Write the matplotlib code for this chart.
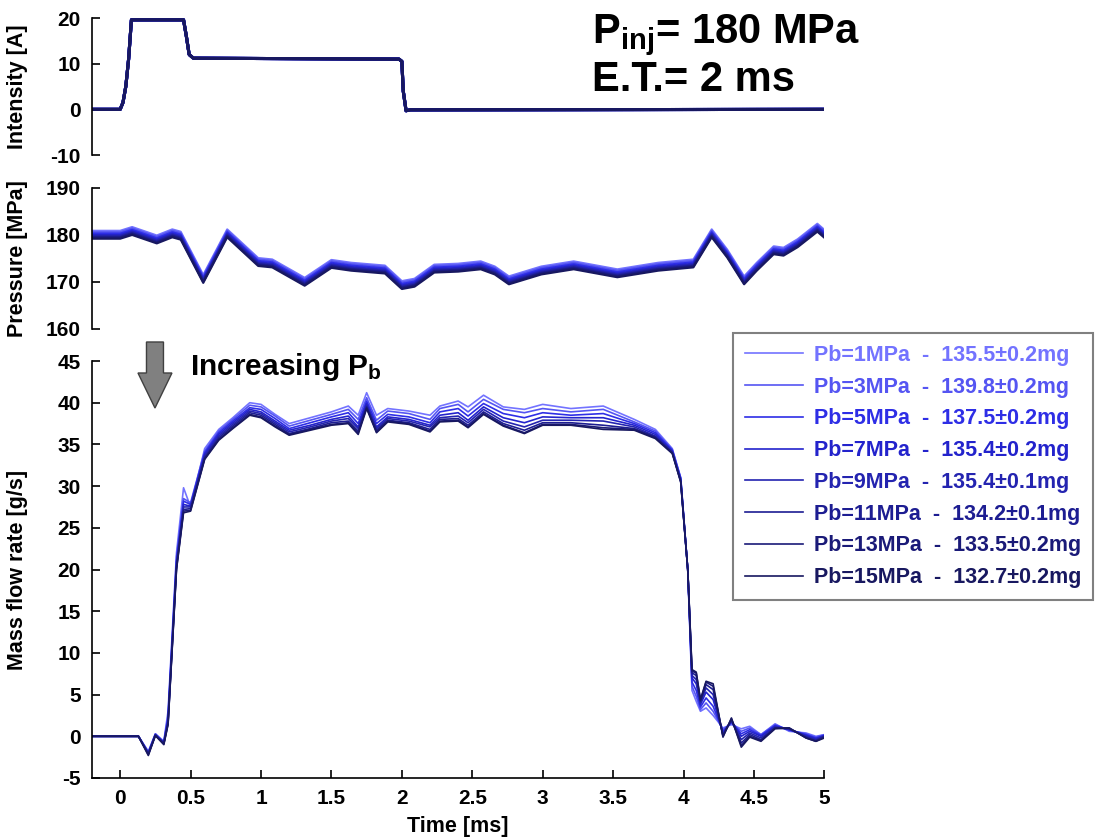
import matplotlib.pyplot as plt
from matplotlib.patches import FancyArrow
import numpy as np

plt.rcParams['font.family'] = ['Liberation Sans', 'DejaVu Sans']
plt.rcParams['font.weight'] = 'bold'
plt.rcParams['axes.unicode_minus'] = False
plt.rcParams['mathtext.fontset'] = 'custom'
plt.rcParams['mathtext.rm'] = 'Liberation Sans:bold'
plt.rcParams['mathtext.bf'] = 'Liberation Sans:bold'
plt.rcParams['mathtext.it'] = 'Liberation Sans:bold'

# --- data ---
pb_values = [1, 3, 5, 7, 9, 11, 13, 15]
mass_inj = ['135.5±0.2', '139.8±0.2', '137.5±0.2', '135.4±0.2',
            '135.4±0.1', '134.2±0.1', '133.5±0.2', '132.7±0.2']
colors = ['#7373ff', '#5555f2', '#2e2ee6', '#2323cc',
          '#2424b0', '#1d1d92', '#1a1a78', '#181860']

# injector current (same for every case)
t_int = [-0.2, 0.0, 0.02, 0.04, 0.06, 0.08, 0.45, 0.47, 0.49, 0.52,
         1.98, 2.0, 2.01, 2.03, 2.06, 5.0]
intensity = [0, 0, 1.5, 5, 11, 19.6, 19.6, 16, 12, 11.2,
             11.0, 10.5, 4, -0.3, -0.1, 0]

# rail pressure
t_p = [-0.2, 0.0, 0.085, 0.26, 0.37, 0.43, 0.59, 0.76, 0.98, 1.08, 1.31, 1.50,
       1.64, 1.88, 2.0, 2.09, 2.23, 2.40, 2.56, 2.66, 2.76, 2.99, 3.22, 3.53,
       3.82, 4.07, 4.2, 4.31, 4.43, 4.52, 4.64, 4.71, 4.81, 4.95, 5.0]
p_pb1 = [180.9, 180.9, 181.7, 179.9, 181.2, 180.7, 171.5, 181.2, 175.1, 174.8, 170.9, 174.7, 174.1, 173.5, 170.2, 170.7, 173.7, 173.9, 174.4, 173.3, 171.2, 173.3, 174.4, 172.7, 174.1, 174.8, 181.2, 176.9, 171.2, 174.1, 177.6, 177.3, 179.1, 182.4, 181.1]
p_pb3 = [180.6, 180.6, 181.4, 179.6, 180.9, 180.4, 171.2, 180.9, 174.8, 174.5, 170.6, 174.4, 173.8, 173.2, 169.9, 170.4, 173.4, 173.6, 174.1, 173.0, 170.9, 173.0, 174.1, 172.4, 173.8, 174.5, 180.9, 176.6, 170.9, 173.8, 177.3, 177.0, 178.8, 182.1, 180.8]
p_pb5 = [180.3, 180.3, 181.1, 179.3, 180.6, 180.1, 170.9, 180.6, 174.5, 174.2, 170.3, 174.1, 173.5, 172.9, 169.6, 170.1, 173.1, 173.3, 173.8, 172.7, 170.6, 172.7, 173.8, 172.1, 173.5, 174.2, 180.6, 176.3, 170.6, 173.5, 177.0, 176.7, 178.5, 181.8, 180.5]
p_pb7 = [180.0, 180.0, 180.8, 179.0, 180.3, 179.8, 170.6, 180.3, 174.2, 173.9, 170.0, 173.8, 173.2, 172.6, 169.3, 169.8, 172.8, 173.0, 173.5, 172.4, 170.3, 172.4, 173.5, 171.8, 173.2, 173.9, 180.3, 176.0, 170.3, 173.2, 176.7, 176.4, 178.2, 181.5, 180.2]
p_pb9 = [179.8, 179.8, 180.6, 178.8, 180.1, 179.6, 170.4, 180.1, 174.0, 173.7, 169.8, 173.6, 173.0, 172.4, 169.1, 169.6, 172.6, 172.8, 173.3, 172.2, 170.1, 172.2, 173.3, 171.6, 173.0, 173.7, 180.1, 175.8, 170.1, 173.0, 176.5, 176.2, 178.0, 181.3, 180.0]
p_pb11 = [179.6, 179.6, 180.4, 178.6, 179.9, 179.4, 170.2, 179.9, 173.8, 173.5, 169.6, 173.4, 172.8, 172.2, 168.9, 169.4, 172.4, 172.6, 173.1, 172.0, 169.9, 172.0, 173.1, 171.4, 172.8, 173.5, 179.9, 175.6, 169.9, 172.8, 176.3, 176.0, 177.8, 181.1, 179.8]
p_pb13 = [179.4, 179.4, 180.2, 178.4, 179.7, 179.2, 170.0, 179.7, 173.6, 173.3, 169.4, 173.2, 172.6, 172.0, 168.7, 169.2, 172.2, 172.4, 172.9, 171.8, 169.7, 171.8, 172.9, 171.2, 172.6, 173.3, 179.7, 175.4, 169.7, 172.6, 176.1, 175.8, 177.6, 180.9, 179.6]
p_pb15 = [179.2, 179.2, 180.0, 178.2, 179.5, 179.0, 169.8, 179.5, 173.4, 173.1, 169.2, 173.0, 172.4, 171.8, 168.5, 169.0, 172.0, 172.2, 172.7, 171.6, 169.5, 171.6, 172.7, 171.0, 172.4, 173.1, 179.5, 175.2, 169.5, 172.4, 175.9, 175.6, 177.4, 180.7, 179.4]

# mass flow rate
t_m = [-0.2, 0.13, 0.20, 0.25, 0.31, 0.34, 0.40, 0.45, 0.50, 0.60, 0.70, 0.80,
       0.92, 1.00, 1.10, 1.20, 1.35, 1.50, 1.62, 1.69, 1.75, 1.82, 1.90, 2.05,
       2.20, 2.27, 2.40, 2.47, 2.58, 2.72, 2.87, 3.00, 3.20, 3.43, 3.65, 3.80,
       3.92, 3.98, 4.03, 4.06, 4.09, 4.12, 4.16, 4.21, 4.28, 4.34, 4.41, 4.47,
       4.55, 4.65, 4.75, 4.87, 4.94, 5.00]
m_pb1 = [0, 0, -1.8, 0.3, -0.6, 3.0, 22.0, 29.8, 27.5, 34.5, 36.8, 38.2, 40.0, 39.8, 38.6, 37.5, 38.2, 38.9, 39.6, 38.5, 41.2, 38.5, 39.3, 39.0, 38.5, 39.6, 40.2, 39.5, 40.9, 39.5, 39.2, 39.8, 39.3, 39.6, 38.0, 36.8, 34.5, 31.0, 20.0, 5.5, 4.2, 3.0, 3.4, 2.5, 1.0, 1.4, 0.9, 1.2, 0.2, 1.5, 0.6, 0.4, 0.0, 0.2]
m_pb3 = [0, 0, -1.9, 0.3, -0.7, 2.5, 21.5, 28.5, 28.0, 34.2, 36.6, 38.0, 39.7, 39.5, 38.4, 37.2, 37.9, 38.6, 39.2, 38.0, 40.6, 37.9, 39.0, 38.7, 38.0, 39.3, 39.8, 38.9, 40.4, 39.2, 38.8, 39.3, 38.9, 39.2, 37.7, 36.6, 34.4, 31.0, 20.0, 6.0, 4.8, 3.2, 4.0, 3.0, 0.8, 1.6, 0.6, 1.0, 0.2, 1.4, 0.7, 0.3, -0.1, 0.2]
m_pb5 = [0, 0, -2.0, 0.2, -0.7, 2.2, 21.0, 28.2, 27.8, 34.0, 36.4, 37.8, 39.4, 39.2, 38.1, 36.9, 37.6, 38.3, 38.8, 37.5, 40.2, 37.5, 38.6, 38.3, 37.6, 38.9, 39.3, 38.4, 39.9, 38.7, 38.2, 38.8, 38.5, 38.7, 37.5, 36.4, 34.3, 30.9, 20.0, 6.5, 5.5, 3.5, 4.6, 3.6, 0.6, 1.7, 0.3, 0.8, 0.1, 1.3, 0.8, 0.2, -0.2, 0.1]
m_pb7 = [0, 0, -2.0, 0.2, -0.8, 2.0, 20.8, 27.8, 27.6, 33.8, 36.2, 37.6, 39.2, 38.9, 37.8, 36.7, 37.3, 38.0, 38.4, 37.1, 39.9, 37.1, 38.3, 38.0, 37.3, 38.5, 38.8, 37.9, 39.5, 38.2, 37.6, 38.3, 38.2, 38.2, 37.3, 36.2, 34.2, 30.8, 20.0, 7.0, 6.3, 3.8, 5.3, 4.4, 0.4, 1.8, 0.0, 0.6, 0.0, 1.2, 0.8, 0.1, -0.3, 0.1]
m_pb9 = [0, 0, -2.1, 0.2, -0.8, 1.8, 20.5, 27.5, 27.5, 33.6, 36.0, 37.4, 39.0, 38.7, 37.6, 36.5, 37.1, 37.8, 38.1, 36.9, 39.7, 36.9, 38.1, 37.8, 37.1, 38.2, 38.4, 37.6, 39.2, 37.8, 37.1, 37.9, 37.9, 37.8, 37.1, 36.0, 34.1, 30.7, 20.0, 7.3, 6.8, 4.0, 5.8, 5.0, 0.2, 1.9, -0.4, 0.4, -0.2, 1.1, 0.9, 0.0, -0.4, 0.0]
m_pb11 = [0, 0, -2.1, 0.1, -0.9, 1.6, 20.3, 27.2, 27.3, 33.4, 35.8, 37.2, 38.8, 38.5, 37.4, 36.3, 36.9, 37.6, 37.8, 36.6, 39.5, 36.7, 37.9, 37.6, 36.8, 38.0, 38.1, 37.3, 38.9, 37.5, 36.7, 37.6, 37.6, 37.3, 36.9, 35.9, 34.0, 30.6, 20.0, 7.6, 7.3, 4.2, 6.2, 5.6, 0.1, 2.0, -0.8, 0.2, -0.4, 1.0, 0.9, -0.1, -0.5, 0.0]
m_pb13 = [0, 0, -2.2, 0.1, -0.9, 1.5, 20.1, 27.0, 27.1, 33.3, 35.6, 37.0, 38.6, 38.3, 37.2, 36.2, 36.8, 37.4, 37.6, 36.4, 39.4, 36.5, 37.8, 37.5, 36.6, 37.8, 37.9, 37.1, 38.7, 37.3, 36.4, 37.4, 37.4, 37.0, 36.8, 35.8, 34.0, 30.5, 20.0, 7.8, 7.6, 4.3, 6.5, 6.0, 0.0, 2.1, -1.1, 0.0, -0.5, 1.0, 1.0, -0.2, -0.6, -0.1]
m_pb15 = [0, 0, -2.3, 0.1, -1.0, 1.4, 20.0, 26.8, 27.0, 33.2, 35.5, 36.9, 38.5, 38.2, 37.1, 36.1, 36.7, 37.3, 37.5, 36.2, 39.3, 36.4, 37.7, 37.4, 36.5, 37.7, 37.8, 37.0, 38.6, 37.2, 36.3, 37.3, 37.3, 36.8, 36.7, 35.7, 33.9, 30.5, 20.0, 8.0, 7.7, 4.4, 6.6, 6.3, -0.1, 2.2, -1.3, -0.1, -0.6, 0.9, 1.0, -0.2, -0.6, -0.2]

pressure = [p_pb1, p_pb3, p_pb5, p_pb7, p_pb9, p_pb11, p_pb13, p_pb15]
massflow = [m_pb1, m_pb3, m_pb5, m_pb7, m_pb9, m_pb11, m_pb13, m_pb15]

x_ticks = [0, 0.5, 1, 1.5, 2, 2.5, 3, 3.5, 4, 4.5, 5]
x_tick_labels = ['0', '0.5', '1', '1.5', '2', '2.5', '3', '3.5', '4', '4.5', '5']

# --- figure ---
fig = plt.figure(figsize=(11.03, 8.38), dpi=100)
left, width = 0.0834, 0.664
ax1 = fig.add_axes([left, 0.815, width, 0.1635])
ax2 = fig.add_axes([left, 0.6074, width, 0.1683])
ax3 = fig.add_axes([left, 0.0716, width, 0.4976])

for i in range(len(pb_values)):
    ax1.plot(t_int, intensity, color=colors[i], lw=2.2)
    ax2.plot(t_p, pressure[i], color=colors[i], lw=1.5)
    label = 'Pb=%dMPa  -  %smg' % (pb_values[i], mass_inj[i])
    ax3.plot(t_m, massflow[i], color=colors[i], lw=1.2, label=label)

for ax in (ax1, ax2, ax3):
    ax.set_xlim(-0.2, 5)
    ax.spines['top'].set_visible(False)
    ax.spines['right'].set_visible(False)
    ax.spines['left'].set_linewidth(1.2)
    ax.tick_params(direction='in', length=6, width=1.2, pad=8, labelsize=15)
    ax.yaxis.set_label_coords(-0.088, 0.5)

for ax in (ax1, ax2):
    ax.spines['bottom'].set_visible(False)
    ax.set_xticks([])

ax1.set_ylim(-10, 20)
ax1.set_yticks([-10, 0, 10, 20])
ax1.set_ylabel('Intensity [A]', fontsize=15.5, fontweight='bold')

ax2.set_ylim(160, 190)
ax2.set_yticks([160, 170, 180, 190])
ax2.set_ylabel('Pressure [MPa]', fontsize=15.5, fontweight='bold')

ax3.set_ylim(-5, 45)
ax3.set_yticks(np.arange(-5, 46, 5))
ax3.set_xticks(x_ticks)
ax3.set_xticklabels(x_tick_labels)
ax3.spines['bottom'].set_linewidth(1.2)
ax3.set_ylabel('Mass flow rate [g/s]', fontsize=15.5, fontweight='bold')
ax3.set_xlabel('Time [ms]', fontsize=15.5, fontweight='bold', labelpad=6)

for ax in (ax1, ax2, ax3):
    for lab in ax.get_xticklabels() + ax.get_yticklabels():
        lab.set_fontweight('bold')

# annotations
fig.text(0.537, 0.948, r'P$_{\mathrm{inj}}$= 180 MPa', fontsize=30, fontweight='bold')
fig.text(0.537, 0.892, 'E.T.= 2 ms', fontsize=30, fontweight='bold')
fig.text(0.172, 0.553, r'Increasing P$_{\mathrm{b}}$', fontsize=21.5, fontweight='bold')

arrow = FancyArrow(0.1405, 0.5919, 0, -0.0788, width=0.0154, head_width=0.0308,
                   head_length=0.0418, length_includes_head=True,
                   transform=fig.transFigure, facecolor='#808080',
                   edgecolor='#404040', lw=1)
fig.add_artist(arrow)

leg = fig.legend(loc='upper left', bbox_to_anchor=(0.6646, 0.6026),
                 handles=ax3.get_lines(), labelcolor='linecolor',
                 prop=dict(weight='bold', size=15.5), handlelength=2.7,
                 handletextpad=0.5, labelspacing=0.5, fancybox=False,
                 framealpha=1, borderpad=0.55, borderaxespad=0)
leg.get_frame().set_edgecolor('#808080')
leg.get_frame().set_linewidth(1.5)

plt.savefig('out.png', dpi=100, facecolor='white')
